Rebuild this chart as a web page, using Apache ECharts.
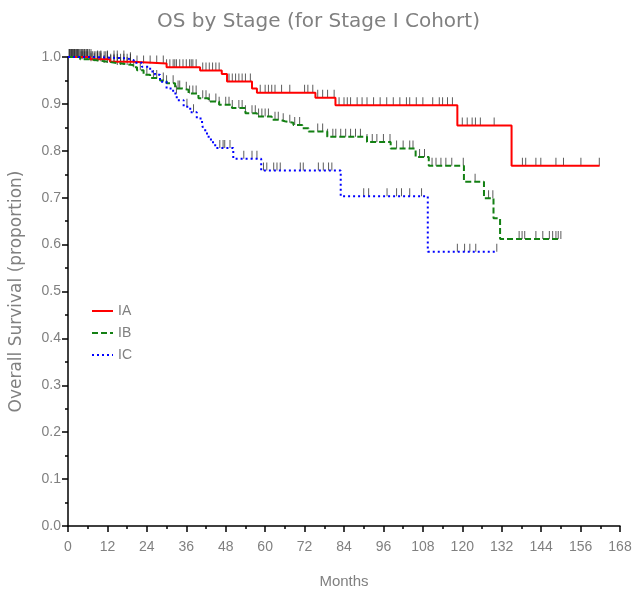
<!DOCTYPE html>
<html><head><meta charset="utf-8">
<script src="https://cdn.jsdelivr.net/npm/echarts@6/dist/echarts.min.js"></script>
<style>html,body{margin:0;padding:0;background:#fff}#c{width:637px;height:597px}</style>
</head><body><div id="c"></div>
<script>
// ---- Data ----
const xTicks = [0,12,24,36,48,60,72,84,96,108,120,132,144,156,168];
const yTicks = [0,0.1,0.2,0.3,0.4,0.5,0.6,0.7,0.8,0.9,1.0];
const seriesNames = ['IA','IB','IC'];

const iaTimes = [0, 6.7, 12.8, 19.8, 30, 40.2, 46.8, 48.4, 56, 57.5, 75.3, 81.4, 118.5, 135, 161.8];
const iaSurv  = [1.0, 0.995, 0.990, 0.986, 0.978, 0.971, 0.964, 0.948, 0.933, 0.924, 0.913, 0.897, 0.854, 0.768, 0.768];

const ibTimes = [0, 3.7, 6.7, 11, 15, 19.8, 21, 23, 25, 28, 30, 32.6, 34.7, 36.7, 39.7, 42.8, 46, 49.9, 54, 57.5, 62, 64.6, 66, 68.6, 71.3, 73.2, 78.9, 91, 98.2, 105.8, 109.8, 120.5, 126.6, 129.5, 131.5, 150];
const ibSurv  = [1.0, 0.995, 0.991, 0.987, 0.983, 0.978, 0.972, 0.962, 0.955, 0.950, 0.944, 0.933, 0.930, 0.922, 0.912, 0.905, 0.898, 0.891, 0.880, 0.873, 0.866, 0.863, 0.860, 0.855, 0.848, 0.841, 0.830, 0.819, 0.805, 0.787, 0.768, 0.734, 0.699, 0.656, 0.612, 0.612];

const icTimes = [0, 8, 18, 20, 22.5, 25, 26.5, 28, 30, 32, 33.1, 35.2, 37.2, 39.2, 40.8, 41.3, 42.3, 43.5, 44.8, 50.3, 58.8, 83, 109.5, 130.5];
const icSurv  = [1.0, 0.997, 0.993, 0.988, 0.979, 0.969, 0.962, 0.947, 0.933, 0.922, 0.908, 0.894, 0.882, 0.869, 0.855, 0.844, 0.830, 0.818, 0.806, 0.783, 0.758, 0.703, 0.585, 0.585];

const iaCensor = [0.3,0.6,0.9,1.2,1.5,1.8,2.1,2.4,2.7,3,3.3,3.6,4,4.4,4.8,5.2,5.6,6,6.5,7,7.5,8,8.5,9,9.5,10,11,11.5,12,13,14,15,16,17,18,19,21,23,25,27,29,30,31,32,32.5,33,34,35,36,37,37.5,38,39,41,42,43,44,45,46,49,50,51,52,53,54,55.5,58.5,60,61,62,63,65,67.5,72,73,74.5,76,77.5,79,81,82.5,84,85,86,88,89.5,91,93,95,97,99,101,103,104,106,108,111,113,114,115.5,117,120,121.5,123,124,125.5,129.7,138.3,139.3,142.4,143.9,148.5,150.8,156.1,161.7];
const ibCensor = [0.5,1,1.5,2,2.5,3,4,4.5,5,5.5,6,7,8,9,10,11,12,13,14,15,16,17,18,19,20,22,24,26,27,29,30,32,33.5,34,36,37,38,39,41,42,43,45,46,48,49,50,52,53,54,56,57,58,59,60,61,63,64,65.5,67.5,69,70.5,76,77.5,79,80.6,81.5,83,84.5,86,87.5,89,91,92.6,94,96,98,100,102,104,105,107,108.5,110.8,112,113.5,115,116.8,120.3,123.9,128,129.3,137.3,138.2,139,142.4,144.5,146.5,147.5,148.5,149.2,150];
const icCensor = [0.5,1,1.5,2,3,4,5,6,7,9,10,12,14,15,17,19,33,36.2,38.2,46.2,47.2,47.7,49.3,53.5,56,57.5,59.5,60.5,62.6,63.6,64.6,70.7,71.6,76.2,77.7,79.3,80.3,90,91.5,97.1,100,101.5,104,107.6,118.5,120.7,122.3,124.1,130.5];

// ---- Helpers ----
function stepPairs(t, s){ return t.map((v,i)=>[v, s[i]]); }
function survAt(t, s, x){ let v = s[0]; for(let i=0;i<t.length;i++){ if(t[i] <= x) v = s[i]; } return v; }
function censorPairs(t, s, c){ return c.map(x => [x, survAt(t, s, x)]); }

const txt = '#808080';
const ff = 'Liberation Sans';
const ffWide = 'DejaVu Sans';
const colors = ['#ff0000', '#138013', '#0000ff'];
const dashes = ['solid', [6,3], [2,3]];
const chart = echarts.init(document.getElementById('c'), null, {renderer:'canvas'});

function censorSeries(data){
  return {type:'scatter', data, symbol:'rect', symbolSize:[1,8], symbolOffset:[0,-4],
    itemStyle:{color:'#333'}, silent:true, z:1, animation:false};
}

// Legend drawn as graphic (line samples + labels)
const legendGraphics = [];
seriesNames.forEach((n, i) => {
  const y = 311 + i * 22;
  legendGraphics.push({type:'line', shape:{x1:92, y1:y, x2:113, y2:y},
    style:{stroke:colors[i], lineWidth:2, lineDash: i === 0 ? null : dashes[i]}});
  legendGraphics.push({type:'text', x:118, y:y, style:{text:n, fill:txt, font:'14px ' + ff, textVerticalAlign:'middle'}});
});

chart.setOption({
  animation:false,
  title:{text:'OS by Stage (for Stage I Cohort)', left:'center', top:7,
    textStyle:{color:txt, fontFamily:ffWide, fontSize:20, fontWeight:'normal'}},
  grid:{left:68, right:17, top:57, bottom:71, containLabel:false, outerBoundsMode:'none'},
  graphic: legendGraphics,
  xAxis:{type:'value', min:0, max:168, interval:12, offset:6,
    name:'Months', nameLocation:'middle', nameGap:42,
    nameTextStyle:{color:txt, fontFamily:ff, fontSize:15},
    axisLine:{lineStyle:{color:'#000', width:1.5}},
    axisTick:{length:6, lineStyle:{color:'#000', width:1.5}},
    minorTick:{show:true, splitNumber:2, length:3, lineStyle:{color:'#000', width:1.5}},
    axisLabel:{color:txt, fontFamily:ff, fontSize:14, margin:8},
    splitLine:{show:false}},
  yAxis:{type:'value', min:0, max:1, interval:0.1, offset:3,
    name:'Overall Survival (proportion)', nameLocation:'middle', nameGap:40,
    nameTextStyle:{color:txt, fontFamily:ffWide, fontSize:17},
    axisLine:{show:true, lineStyle:{color:'#000', width:1.5}},
    axisTick:{show:true, length:6, lineStyle:{color:'#000', width:1.5}},
    minorTick:{show:true, splitNumber:2, length:3, lineStyle:{color:'#000', width:1.5}},
    axisLabel:{color:txt, fontFamily:ff, fontSize:14, margin:4, formatter:v=>v.toFixed(1)},
    splitLine:{show:false}},
  series:[
    censorSeries(censorPairs(iaTimes, iaSurv, iaCensor)),
    censorSeries(censorPairs(ibTimes, ibSurv, ibCensor)),
    censorSeries(censorPairs(icTimes, icSurv, icCensor)),
    {name:'IA', type:'line', step:'end', data:stepPairs(iaTimes, iaSurv), symbol:'none', z:3,
      lineStyle:{color:colors[0], width:2}},
    {name:'IB', type:'line', step:'end', data:stepPairs(ibTimes, ibSurv), symbol:'none', z:3,
      lineStyle:{color:colors[1], width:2, type:dashes[1]}},
    {name:'IC', type:'line', step:'end', data:stepPairs(icTimes, icSurv), symbol:'none', z:3,
      lineStyle:{color:colors[2], width:2, type:dashes[2]}}
  ]
});
</script></body></html>
